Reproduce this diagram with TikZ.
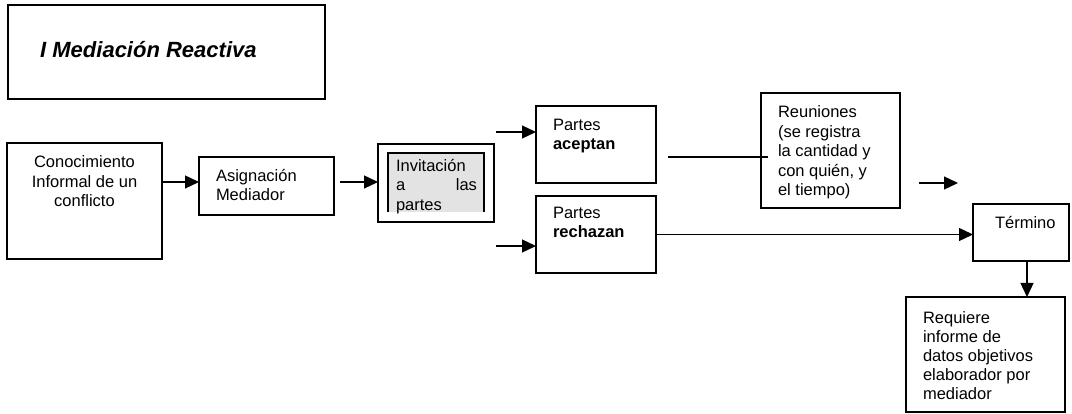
\documentclass[tikz,border=0pt]{standalone}
\usepackage{fontspec}
\setmainfont{Liberation Sans}
\usetikzlibrary{arrows.meta}
\begin{document}
\begin{tikzpicture}[x=1pt,y=-1pt,
  box/.style={draw, line width=1.3pt, inner sep=0pt, outer sep=0pt, anchor=north west},
  txt/.style={font=\fontsize{16.5}{19.5}\selectfont, inner sep=0pt, outer sep=0pt, anchor=north west, align=left},
  arr/.style={line width=1.3pt, -{Triangle[length=14pt,width=13pt]}},
  ln/.style={line width=1.3pt}]
\useasboundingbox (0,0) rectangle (1072,414);
% title
\node[box, minimum width=317pt, minimum height=94pt] (title) at (8,5) {};
\node[anchor=west, inner sep=0pt, font=\fontsize{22}{26}\selectfont\bfseries\itshape] (titletxt) at (40,50) {I Mediación Reactiva};
% boxes
\node[box, minimum width=155pt, minimum height=116pt] (conoc) at (7,143) {};
\node[box, minimum width=135pt, minimum height=58pt] (asig) at (199,157) {};
\node[box, minimum width=116pt, minimum height=78pt] (inv) at (378,144) {};
\fill[gray!22] (388,153) rectangle (484,212);
\draw[ln] (388,212) -- (388,153) -- (484,153) -- (484,212);
\node[box, minimum width=120pt, minimum height=77pt] (acep) at (536,106) {};
\node[box, minimum width=120pt, minimum height=77pt] (rech) at (536,196) {};
\node[box, minimum width=139pt, minimum height=115pt] (reun) at (761,93) {};
\node[box, minimum width=96pt, minimum height=57pt] (term) at (973,204) {};
\node[box, minimum width=159pt, minimum height=115pt] (req) at (906,297) {};
% texts
\node[txt, anchor=north, align=center] (conoctxt) at (84.5,156) {Conocimiento\\Informal de un\\conflicto};
\node[txt] (asigtxt) at (216,169) {Asignación\\Mediador};
\node[txt, text width=81pt] (invtxt) at (396,159) {Invitación\\\makebox[\linewidth][s]{a\hfill las}\\partes};
\node[txt] (aceptxt) at (553,119) {Partes\\\textbf{aceptan}};
\node[txt] (rechtxt) at (553,207) {Partes\\\textbf{rechazan}};
\node[txt] (reuntxt) at (778,106) {Reuniones\\(se registra\\la cantidad y\\con quién, y\\el tiempo)};
\node[txt] (termtxt) at (995,216) {Término};
\node[txt, font=\fontsize{16.5}{19}\selectfont] (reqtxt) at (923,312) {Requiere\\informe de\\datos objetivos\\elaborador por\\mediador};
% connectors
\coordinate (c1) at (162,182);
\draw[arr] (c1) -- (c1 -| asig.west);
\coordinate (c2) at (340,182);
\draw[arr] (c2) -- (c2 -| inv.west);
\coordinate (c3) at (496,132);
\draw[arr] (c3) -- (c3 -| acep.west);
\coordinate (c4) at (496,246);
\draw[arr] (c4) -- (c4 -| rech.west);
\coordinate (c5) at (668,157);
\coordinate (c6) at (768,157);
\draw[ln] (c5) -- (c6);
\coordinate (c7) at (919,183);
\coordinate (c8) at (958,183);
\draw[arr] (c7) -- (c8);
\draw[arr] (rech.east) -- (rech.east -| term.west);
\coordinate (c9) at (1027,261);
\draw[arr] (c9) -- (c9 |- req.north);
\end{tikzpicture}
\end{document}
